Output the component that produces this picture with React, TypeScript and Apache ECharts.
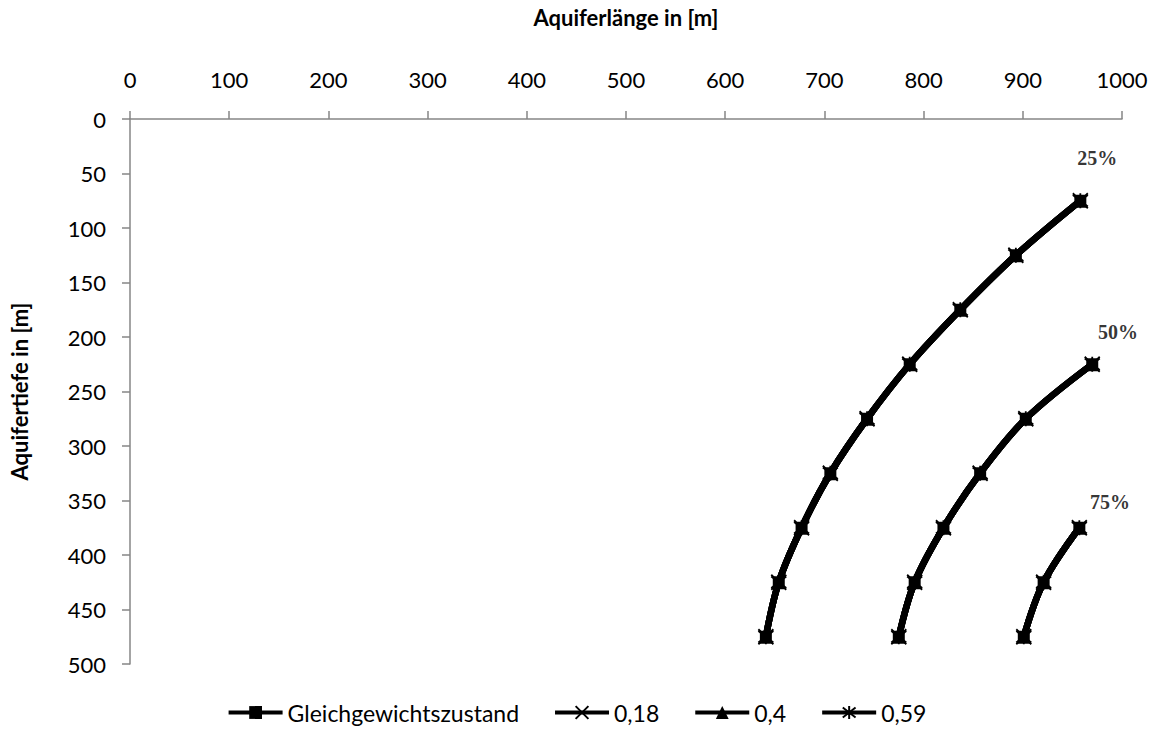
import React, { useEffect, useRef } from "react";
import * as echarts from "echarts";

// Depth (y, m) and aquifer length (x, m) for each isoline
const depths25 = [75, 125, 175, 225, 275, 325, 375, 425, 475];
const lengths25 = [958, 893, 837, 786, 743, 706, 677, 654, 641];
const depths50 = [225, 275, 325, 375, 425, 475];
const lengths50 = [970, 903, 857, 820, 791, 775];
const depths75 = [375, 425, 475];
const lengths75 = [957, 921, 901];

const seriesNames = ["Gleichgewichtszustand", "0,18", "0,4", "0,59"];

const curveLabels = ["25%", "50%", "75%"];
const curveLabelX = [975, 996, 988];
const curveLabelY = [36, 195, 351];

const symbols = [
  "rect",
  "path://M0,0L10,10M10,0L0,10",
  "triangle",
  "path://M0,0L10,10M10,0L0,10M5,-1.5L5,11.5",
];
const symbolSizes = [12, 15, 14, 15];

const FONT = "Lato, 'Open Sans', sans-serif";

function pairs(xs: number[], ys: number[]) {
  return xs.map((x, i) => [x, ys[i]]);
}

export default function App() {
  const ref = useRef<HTMLDivElement>(null);

  useEffect(() => {
    if (!ref.current) return;
    const chart = echarts.init(ref.current, undefined, { renderer: "svg" });

    const curves = [
      pairs(lengths25, depths25),
      pairs(lengths50, depths50),
      pairs(lengths75, depths75),
    ];

    const series: any[] = [];
    seriesNames.forEach((name, si) => {
      const isStroke = si === 1 || si === 3;
      curves.forEach((data) => {
        series.push({
          name,
          type: "line",
          data,
          smooth: 0.35,
          symbol: symbols[si],
          symbolSize: symbolSizes[si],
          showSymbol: true,
          lineStyle: { color: "#000", width: 6.5 },
          itemStyle: isStroke
            ? { color: "#000", borderColor: "#000", borderWidth: 1.8 }
            : { color: "#000", borderColor: "#000", borderWidth: 0 },
          z: 2 + si,
        });
      });
    });

    series.push({
      name: "labels",
      type: "scatter",
      symbolSize: 0,
      data: curveLabels.map((t, i) => ({ name: t, value: [curveLabelX[i], curveLabelY[i]] })),
      label: {
        show: true,
        position: "inside",
        formatter: (p: any) => p.name,
        fontFamily: "'Liberation Serif', 'Times New Roman', serif",
        fontWeight: "bold",
        fontSize: 20,
        color: "#000",
      },
      z: 10,
    });

    chart.setOption({
      animation: false,
      backgroundColor: "#fff",
      grid: { left: 122, right: 31, top: 119, bottom: 65 },
      xAxis: {
        type: "value",
        position: "top",
        min: 0,
        max: 1000,
        interval: 100,
        name: "Aquiferlänge in [m]",
        nameLocation: "middle",
        nameGap: 91,
        nameTextStyle: { fontFamily: FONT, fontWeight: "bold", fontSize: 22, color: "#000" },
        axisLine: { show: true, lineStyle: { color: "#868686", width: 1.5 } },
        axisTick: { show: true, length: 8, lineStyle: { color: "#868686", width: 1.5 } },
        axisLabel: {
          fontFamily: FONT,
          fontSize: 22,
          color: "#000",
          margin: 29,
          formatter: (v: number) => String(v),
        },
        splitLine: { show: false },
      },
      yAxis: {
        type: "value",
        inverse: true,
        min: 0,
        max: 500,
        interval: 50,
        name: "Aquifertiefe in [m]",
        nameLocation: "middle",
        nameGap: 100,
        nameRotate: 90,
        nameTextStyle: { fontFamily: FONT, fontWeight: "bold", fontSize: 22, color: "#000" },
        axisLine: { show: true, lineStyle: { color: "#868686", width: 1.5 } },
        axisTick: { show: true, length: 8, lineStyle: { color: "#868686", width: 1.5 } },
        axisLabel: {
          fontFamily: FONT,
          fontSize: 22,
          color: "#000",
          margin: 24,
          formatter: (v: number) => String(v),
        },
        splitLine: { show: false },
      },
      legend: {
        data: seriesNames,
        bottom: 0,
        left: "center",
        itemWidth: 54,
        itemHeight: 16,
        itemGap: 34,
        lineStyle: { width: 4, color: "#000" },
        textStyle: { fontFamily: FONT, fontSize: 23, color: "#000" },
      },
      series,
    });

    return () => chart.dispose();
  }, []);

  return (
    <div
      ref={ref}
      style={{ position: "fixed", left: 0, top: 0, width: 1153, height: 729, background: "#fff" }}
    />
  );
}
